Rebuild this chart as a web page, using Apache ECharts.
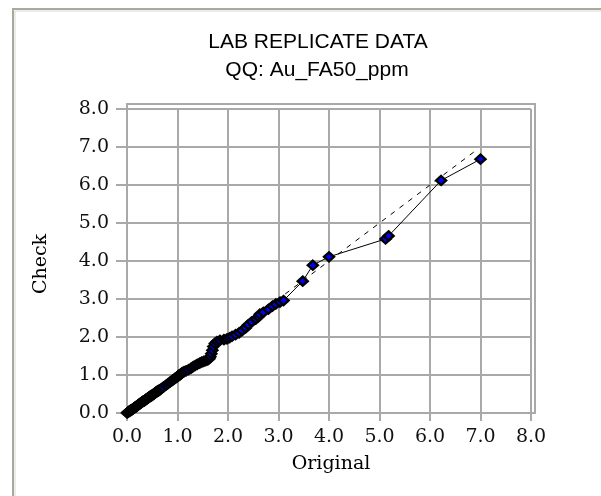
<!DOCTYPE html>
<html>
<head>
<meta charset="utf-8">
<script src="https://cdn.jsdelivr.net/npm/echarts@6/dist/echarts.min.js"></script>
<style>html,body{margin:0;padding:0;background:#fff;}#c{width:601px;height:496px;}</style>
</head>
<body>
<div id="c"></div>
<script>
var titleLines = ['LAB REPLICATE DATA', 'QQ: Au_FA50_ppm'];
var xName = 'Original';
var yName = 'Check';
var axisTicks = [0, 1, 2, 3, 4, 5, 6, 7, 8];

var original = [
0.00,0.01,0.02,0.03,0.04,0.05,0.06,0.07,0.08,0.09,
0.10,0.11,0.12,0.13,0.14,0.15,0.16,0.17,0.18,0.19,
0.20,0.21,0.22,0.23,0.24,0.25,0.26,0.27,0.28,0.29,
0.30,0.31,0.32,0.33,0.34,0.35,0.36,0.37,0.38,0.39,
0.40,0.41,0.42,0.43,0.44,0.45,0.46,0.47,0.48,0.49,
0.50,0.51,0.52,0.53,0.54,0.55,0.56,0.57,0.58,0.59,
0.60,0.61,0.62,0.63,0.64,0.65,
0.68,0.72,0.77,0.81,0.85,0.89,0.92,0.95,0.98,1.00,
1.01,1.02,1.03,1.04,1.05,1.06,1.07,1.08,1.09,1.10,
1.13,1.17,1.22,1.27,1.31,
1.35,1.39,1.44,1.48,1.52,1.56,1.60,1.63,1.65,1.67,
1.69,1.71,1.74,1.78,1.84,1.92,1.98,2.03,2.08,2.15,
2.22,2.28,2.35,2.40,2.47,2.55,2.60,2.63,2.70,2.80,
2.88,2.95,3.03,3.10,3.48,3.68,4.00,5.12,5.18,6.22,7.00];

var check = [
0.00,0.01,0.02,0.03,0.04,0.05,0.06,0.07,0.07,0.08,
0.09,0.10,0.11,0.12,0.13,0.14,0.15,0.16,0.17,0.18,
0.19,0.20,0.21,0.22,0.23,0.24,0.25,0.26,0.27,0.28,
0.29,0.30,0.31,0.31,0.32,0.33,0.34,0.35,0.36,0.37,
0.38,0.39,0.40,0.41,0.42,0.43,0.44,0.45,0.45,0.46,
0.47,0.48,0.49,0.50,0.51,0.52,0.53,0.54,0.55,0.56,
0.57,0.58,0.58,0.59,0.60,0.61,
0.64,0.68,0.73,0.77,0.81,0.85,0.88,0.91,0.94,0.96,
0.97,0.98,0.99,1.00,1.01,1.02,1.03,1.04,1.05,1.06,
1.09,1.11,1.14,1.18,1.22,
1.25,1.28,1.31,1.34,1.36,1.38,1.40,1.43,1.48,1.56,
1.65,1.75,1.83,1.88,1.91,1.93,1.95,1.98,2.02,2.06,
2.11,2.17,2.24,2.32,2.40,2.47,2.53,2.60,2.65,2.73,
2.81,2.87,2.92,2.96,3.47,3.89,4.11,4.58,4.66,6.12,6.68];

var refLine = [0, 6.95];

var G = {left: 127, top: 109, right: 70, bottom: 83};
var gridColor = '#a9a9a9';
var serif = 'DejaVu Serif';

var qq = original.map(function (v, i) { return [v, check[i]]; });
var ref = refLine.map(function (v) { return [v, v]; });

var chart = echarts.init(document.getElementById('c'), null, {renderer: 'canvas'});

function axisCfg(isX) {
  return {
    type: 'value',
    min: axisTicks[0],
    max: axisTicks[axisTicks.length - 1],
    interval: axisTicks[1] - axisTicks[0],
    axisLine: {show: true, lineStyle: {color: gridColor, width: 2}},
    axisTick: {show: true, inside: false, length: isX ? 8 : 11, lineStyle: {color: gridColor, width: 2}},
    splitLine: {show: true, lineStyle: {color: gridColor, width: 2}},
    axisLabel: {
      color: '#111', fontFamily: serif, fontSize: 19,
      margin: isX ? 15 : 18,
      formatter: function (v) { return v.toFixed(1); }
    }
  };
}

var plotW = 601 - G.left - G.right;
var plotH = 496 - G.top - G.bottom;

chart.setOption({
  animation: false,
  backgroundColor: '#fff',
  grid: {left: G.left, top: G.top, right: G.right, bottom: G.bottom, containLabel: false},
  xAxis: axisCfg(true),
  yAxis: axisCfg(false),
  graphic: [
    {type: 'polyline', shape: {points: [[13, 496], [13, 9], [601, 9]]}, style: {stroke: '#a8a89c', lineWidth: 2, fill: null}, silent: true},
    {type: 'polyline', shape: {points: [[15, 496], [15, 11], [601, 11]]}, style: {stroke: '#d8d8d0', lineWidth: 1, fill: null}, silent: true},
    {type: 'rect', shape: {x: G.left, y: G.top - 5, width: plotW + 4, height: plotH + 5}, style: {stroke: gridColor, lineWidth: 2, fill: null}, silent: true, z: 0},
    {type: 'text', x: 318, y: 42, style: {text: titleLines[0], textAlign: 'center', textVerticalAlign: 'middle', font: '21px "Liberation Sans", Arial, sans-serif', fill: '#000'}},
    {type: 'text', x: 317, y: 70, style: {text: titleLines[1], textAlign: 'center', textVerticalAlign: 'middle', font: '21px "Liberation Sans", Arial, sans-serif', fill: '#000'}},
    {type: 'text', x: 331, y: 464, style: {text: xName, textAlign: 'center', textVerticalAlign: 'middle', font: '19px "DejaVu Serif", serif', fill: '#000'}},
    {type: 'text', x: 41, y: 264, rotation: Math.PI / 2, style: {text: yName, textAlign: 'center', textVerticalAlign: 'middle', font: '19px "DejaVu Serif", serif', fill: '#000'}}
  ],
  series: [
    {
      type: 'line', data: ref, showSymbol: false, silent: true,
      lineStyle: {color: '#000', width: 1, type: [5, 6]}, z: 2
    },
    {
      type: 'line', data: qq, symbol: 'diamond', symbolSize: [10, 9], showSymbol: true, showAllSymbol: true,
      lineStyle: {color: '#000', width: 1},
      itemStyle: {color: '#0000ff', borderColor: '#000', borderWidth: 2.4},
      z: 3
    }
  ]
});
</script>
</body>
</html>
